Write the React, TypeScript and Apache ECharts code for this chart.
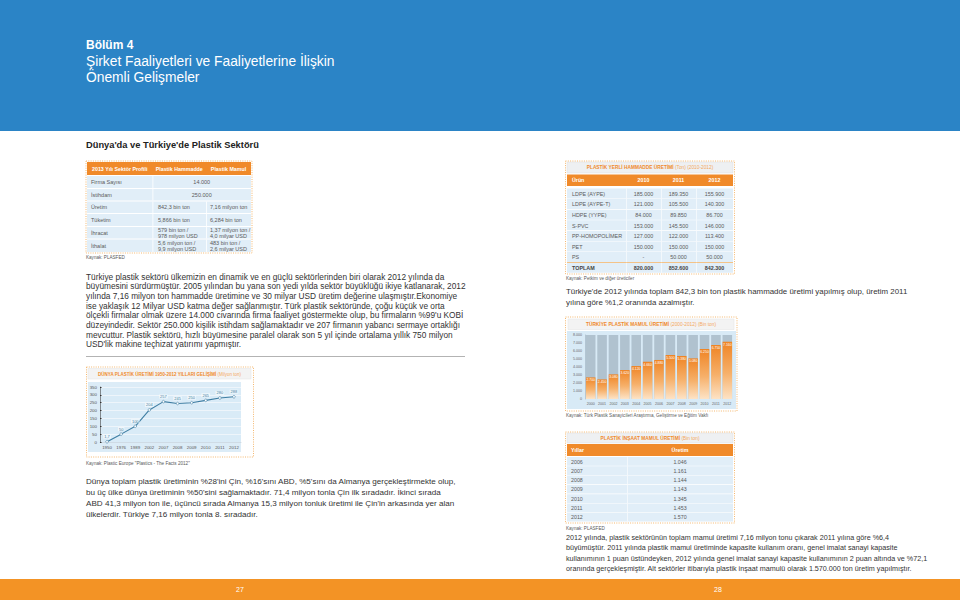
import React, { useEffect, useRef } from "react";
import * as echarts from "echarts";

const FONT = '"Liberation Sans", Arial, Helvetica, sans-serif';

// ---------- DATA ----------
const worldYears = ["1950", "1976", "1989", "2002", "2007", "2008", "2009", "2010", "2011", "2012"];
const worldProduction = [1.7, 50, 100, 204, 257, 245, 250, 265, 280, 288];

const turkeyYears = ["2000", "2001", "2002", "2003", "2004", "2005", "2006", "2007", "2008", "2009", "2010", "2011", "2012"];
const turkeyProduction = [2700, 2450, 3080, 3620, 4120, 4660, 4880, 5500, 5380, 5080, 6250, 6750, 7160];
const turkeyAxisMax = 8000;

const profileHeaders = ["2013 Yılı Sektör Profili", "Plastik Hammadde", "Plastik Mamul"];
const profileRowLabels = ["Firma Sayısı", "İstihdam", "Üretim", "Tüketim", "İhracat", "İthalat"];
const profileRaw = ["14.000", "250.000", "842,3 bin ton", "5,866 bin ton", "579 bin ton /\n978 milyon USD", "5,6 milyon ton /\n9,9 milyon USD"];
const profileProducts = ["", "", "7,16 milyon ton", "6,284 bin ton", "1,37 milyon ton /\n4,0 milyar USD", "483 bin ton /\n2,6 milyar USD"];

const rawTitle = "PLASTİK YERLİ HAMMADDE ÜRETİMİ";
const rawTitleUnit = "(Ton) (2010-2012)";
const rawHeaders = ["Ürün", "2010", "2011", "2012"];
const rawProducts = ["LDPE (AYPE)", "LDPE (AYPE-T)", "HDPE (YYPE)", "S-PVC", "PP-HOMOPOLİMER", "PET", "PS", "TOPLAM"];
const raw2010 = ["185.000", "121.000", "84.000", "153.000", "127.000", "150.000", "-", "820.000"];
const raw2011 = ["189.350", "105.500", "89.850", "145.500", "122.000", "150.000", "50.000", "852.600"];
const raw2012 = ["155.900", "140.300", "86.700", "146.000", "113.400", "150.000", "50.000", "842.300"];

const constrTitle = "PLASTİK İNŞAAT MAMUL ÜRETİMİ";
const constrUnit = "(Bin ton)";
const constrHeaders = ["Yıllar", "Üretim"];
const constrYears = ["2006", "2007", "2008", "2009", "2010", "2011", "2012"];
const constrValues = ["1.046", "1.161", "1.144", "1.143", "1.345", "1.453", "1.570"];

const para1 = [
  "Türkiye plastik sektörü ülkemizin en dinamik ve en güçlü sektörlerinden biri olarak 2012 yılında da",
  "büyümesini sürdürmüştür. 2005 yılından bu yana son yedi yılda sektör büyüklüğü ikiye katlanarak, 2012",
  "yılında 7,16 milyon ton hammadde üretimine ve 30 milyar USD üretim değerine ulaşmıştır.Ekonomiye",
  "ise yaklaşık 12 Milyar USD katma değer sağlanmıştır. Türk plastik sektöründe, çoğu küçük ve orta",
  "ölçekli firmalar olmak üzere 14.000 civarında firma faaliyet göstermekte olup, bu firmaların %99'u KOBİ",
  "düzeyindedir. Sektör 250.000 kişilik istihdam sağlamaktadır ve 207 firmanın yabancı sermaye ortaklığı",
  "mevcuttur. Plastik sektörü, hızlı büyümesine paralel olarak son 5 yıl içinde ortalama yıllık 750 milyon",
  "USD'lik makine teçhizat yatırımı yapmıştır.",
];
const para2 = [
  "Dünya toplam plastik üretiminin %28'ini Çin, %16'sını ABD, %5'sını da Almanya gerçekleştirmekte olup,",
  "bu üç ülke dünya üretiminin %50'sini sağlamaktadır. 71,4 milyon tonla Çin ilk sıradadır. İkinci sırada",
  "ABD 41,3 milyon ton ile, üçüncü sırada Almanya 15,3 milyon tonluk üretimi ile Çin'in arkasında yer alan",
  "ülkelerdir. Türkiye 7,16 milyon tonla 8. sıradadır.",
];
const para3 = [
  "Türkiye'de 2012 yılında toplam 842,3 bin ton plastik hammadde üretimi yapılmış olup, üretim 2011",
  "yılına göre %1,2 oranında azalmıştır.",
];
const para4 = [
  "2012 yılında, plastik sektörünün toplam mamul üretimi 7,16 milyon tonu çıkarak 2011 yılına göre %6,4",
  "büyümüştür. 2011 yılında plastik mamul üretiminde kapasite kullanım oranı, genel imalat sanayi kapasite",
  "kullanımının 1 puan üstündeyken, 2012 yılında genel imalat sanayi kapasite kullanımının 2 puan altında ve %72,1",
  "oranında gerçekleşmiştir. Alt sektörler itibarıyla plastik inşaat mamulü olarak 1.570.000 ton üretim yapılmıştır.",
];

// ---------- STYLE ----------
const BLUE = "#2b84c6";
const ORANGE = "#f08a2a";
const ROW = "#e1eef8";
const DARK = "#333333";
const GREY = "#5a5a5a";

const fmtDots = (v: number) => v.toLocaleString("de-DE");

const txt = (x: number, y: number, text: string, size: number, fill: string, o: any = {}) => ({
  type: "text",
  x,
  y,
  z: o.z ?? 10,
  silent: true,
  style: {
    text,
    fill,
    fontSize: size,
    fontFamily: FONT,
    fontWeight: o.weight || "normal",
    align: o.align || "left",
    verticalAlign: "middle",
    lineHeight: o.lineHeight,
    rich: o.rich,
  },
});

const rect = (x: number, y: number, w: number, h: number, style: any, z = 1) => ({
  type: "rect",
  z,
  silent: true,
  shape: { x, y, width: w, height: h },
  style,
});

const dotted = (x: number, y: number, w: number, h: number) =>
  rect(x, y, w, h, { fill: "none", stroke: "#f3b060", lineWidth: 0.9, lineDash: [1, 1.3] }, 5);

const titleRich = (size: number) => ({
  b: { fontSize: size, fontWeight: "bold", fill: ORANGE, fontFamily: FONT },
  l: { fontSize: size, fill: "#f4a860", fontFamily: FONT },
});

function buildGraphics() {
  const g: any[] = [];
  // page backgrounds
  g.push(rect(0, 0, 960, 131, { fill: BLUE }, 0));
  g.push(rect(0, 579, 960, 21, { fill: "#f39325" }, 0));
  g.push(txt(240, 589.5, "27", 7, "#ffffff", { align: "center" }));
  g.push(txt(718, 589.5, "28", 7, "#ffffff", { align: "center" }));

  g.push(txt(86, 45, "Bölüm 4", 12, "#ffffff", { weight: "bold" }));
  g.push(txt(86, 61, "Şirket Faaliyetleri ve Faaliyetlerine İlişkin", 13.8, "#ffffff"));
  g.push(txt(86, 77.5, "Önemli Gelişmeler", 13.8, "#ffffff"));
  g.push(txt(86, 145, "Dünya'da ve Türkiye'de Plastik Sektörü", 9.3, "#222222", { weight: "bold" }));

  // ---- profile table ----
  const px = [87, 152.5, 206, 251];
  g.push(rect(px[0], 162, px[3] - px[0], 13, { fill: ORANGE }, 2));
  const hx = [(px[0] + px[1]) / 2, (px[1] + px[2]) / 2, (px[2] + px[3]) / 2];
  profileHeaders.forEach((h, i) => g.push(txt(hx[i], 168.5, h, 5.3, "#ffffff", { align: "center", weight: "bold" })));
  const rowTops = [176, 189, 201.5, 214, 227, 239.5];
  const rowHs = [12, 11.5, 11.5, 12, 11.5, 12.5];
  profileRowLabels.forEach((lab, i) => {
    const t = rowTops[i];
    const h = rowHs[i];
    const c = t + h / 2;
    g.push(rect(px[0], t, px[3] - px[0], h, { fill: ROW }, 2));
    g.push(rect(px[1], t, 0.8, h, { fill: "#ffffff" }, 3));
    g.push(txt(91, c, lab, 5.5, GREY));
    if (profileProducts[i] === "") {
      g.push(txt((px[1] + px[3]) / 2, c, profileRaw[i], 5.5, GREY, { align: "center" }));
    } else {
      g.push(rect(px[2], t, 0.8, h, { fill: "#ffffff" }, 3));
      g.push(txt(158, c, profileRaw[i], 5.5, GREY, { lineHeight: 5.6 }));
      g.push(txt(210, c, profileProducts[i], 5.5, GREY, { lineHeight: 5.6 }));
    }
  });
  g.push(dotted(86, 161, 166, 92));
  g.push(txt(86, 257, "Kaynak: PLASFED", 4.6, GREY));

  // paragraphs
  para1.forEach((l, i) => g.push(txt(86, 276.5 + i * 9.7, l, 8.3, DARK)));
  g.push(rect(86, 356, 379, 0.7, { fill: "#9a9a9a" }, 2));
  para2.forEach((l, i) => g.push(txt(86, 481 + i * 11, l, 8.1, DARK)));
  para3.forEach((l, i) => g.push(txt(566, 291 + i * 11, l, 7.9, DARK)));
  para4.forEach((l, i) => g.push(txt(566, 537.5 + i * 10.3, l, 7.2, DARK)));

  // ---- world chart frame ----
  g.push(rect(88, 382, 153, 70, { fill: "#dcecf7" }, -1));
  g.push(rect(88, 368.5, 163, 10.5, { fill: "#f3f3f3", stroke: "#e2e2e2", lineWidth: 0.5 }, 2));
  g.push(
    txt(169.5, 374, "{b|DÜNYA PLASTİK ÜRETİMİ 1950-2012 YILLARI GELİŞİMİ} {l|(Milyon ton)}", 4.5, ORANGE, {
      align: "center",
      rich: titleRich(4.5),
    })
  );
  g.push(dotted(86.5, 367, 167, 90));
  g.push(txt(86, 463.5, 'Kaynak: Plastic Europe "Plastics - The Facts 2012"', 4.6, GREY));

  // ---- raw table ----
  const rx = [567, 626, 661, 696, 733];
  g.push(rect(rx[0], 162, rx[4] - rx[0], 11, { fill: "#eef0f2", stroke: "#dcdcdc", lineWidth: 0.5 }, 2));
  g.push(txt(650, 167.5, `{b|${rawTitle}} {l|${rawTitleUnit}}`, 4.8, ORANGE, { align: "center", rich: titleRich(4.8) }));
  g.push(rect(rx[0], 174.5, rx[4] - rx[0], 11.5, { fill: ORANGE }, 2));
  g.push(txt(572, 180.3, rawHeaders[0], 5.3, "#ffffff", { weight: "bold" }));
  for (let c = 1; c < 4; c++) {
    g.push(txt((rx[c] + rx[c + 1]) / 2, 180.3, rawHeaders[c], 5.3, "#ffffff", { align: "center", weight: "bold" }));
  }
  const cols = [raw2010, raw2011, raw2012];
  rawProducts.forEach((p, i) => {
    const t = 188.5 + i * 10.6;
    const c = t + 5.3;
    const last = i === rawProducts.length - 1;
    g.push(rect(rx[0], t, rx[4] - rx[0], 10, { fill: ROW }, 2));
    if (last) g.push(rect(rx[0], t - 0.4, rx[4] - rx[0], 0.8, { fill: "#f3b060" }, 3));
    for (let k = 1; k < 4; k++) g.push(rect(rx[k], t, 0.6, 10, { fill: "#ffffff" }, 3));
    g.push(txt(572, c, p, 5.4, last ? "#444" : GREY, { weight: last ? "bold" : "normal" }));
    cols.forEach((col, k) =>
      g.push(txt((rx[k + 1] + rx[k + 2]) / 2, c, col[i], 5.4, last ? "#444" : GREY, { align: "center", weight: last ? "bold" : "normal" }))
    );
  });
  g.push(dotted(565.5, 161, 169, 113));
  g.push(txt(566, 278, "Kaynak: Petkim ve diğer üreticiler", 4.6, GREY));

  // ---- turkey chart frame ----
  g.push(rect(567, 331, 169, 78, { fill: "#d8eaf6" }, -1));
  g.push(rect(568, 319, 166, 10.5, { fill: "#f3f3f3", stroke: "#e2e2e2", lineWidth: 0.5 }, 2));
  g.push(
    txt(651, 324.5, "{b|TÜRKİYE PLASTİK MAMUL ÜRETİMİ} {l|(2000-2012) (Bin ton)}", 4.8, ORANGE, {
      align: "center",
      rich: titleRich(4.8),
    })
  );
  g.push(dotted(565.5, 317, 171.5, 94));
  g.push(txt(566, 415, "Kaynak: Türk Plastik Sanayicileri Araştırma, Geliştirme ve Eğitim Vakfı", 4.6, GREY));

  // ---- construction table ----
  const cx = [567, 627, 733];
  g.push(rect(cx[0], 433, cx[2] - cx[0], 10, { fill: "#eef0f2", stroke: "#dcdcdc", lineWidth: 0.5 }, 2));
  g.push(txt(650, 438, `{b|${constrTitle}} {l|${constrUnit}}`, 4.8, ORANGE, { align: "center", rich: titleRich(4.8) }));
  g.push(rect(cx[0], 444, cx[2] - cx[0], 12, { fill: ORANGE }, 2));
  g.push(txt(571, 450, constrHeaders[0], 5.3, "#ffffff", { weight: "bold" }));
  g.push(txt((cx[1] + cx[2]) / 2, 450, constrHeaders[1], 5.3, "#ffffff", { align: "center", weight: "bold" }));
  constrYears.forEach((y, i) => {
    const t = 457 + i * 9.3;
    g.push(rect(cx[0], t, cx[2] - cx[0], 8.7, { fill: ROW }, 2));
    g.push(rect(cx[1], t, 0.6, 8.7, { fill: "#ffffff" }, 3));
    g.push(txt(571, t + 4.5, y, 5.3, GREY));
    g.push(txt((cx[1] + cx[2]) / 2, t + 4.5, constrValues[i], 5.3, GREY, { align: "center" }));
  });
  g.push(dotted(565.5, 432, 169, 91));
  g.push(txt(566, 528, "Kaynak: PLASFED", 4.6, GREY));

  return g;
}

function buildOption(): any {
  return {
    animation: false,
    backgroundColor: "#ffffff",
    textStyle: { fontFamily: FONT },
    grid: [
      { left: 100, top: 387, width: 141, height: 55, show: true, backgroundColor: "#d9ebf7", borderWidth: 0 },
      { left: 585, top: 335, width: 148, height: 64, show: false },
    ],
    xAxis: [
      {
        type: "category",
        gridIndex: 0,
        data: worldYears,
        boundaryGap: true,
        axisLine: { show: true, lineStyle: { color: "#b9cad6", width: 0.6 } },
        axisTick: { show: false },
        axisLabel: { fontSize: 4.4, color: "#555", margin: 3, interval: 0 },
      },
      {
        type: "category",
        gridIndex: 1,
        data: turkeyYears,
        axisLine: { show: false },
        axisTick: { show: false },
        axisLabel: { fontSize: 3.6, color: "#666", margin: 2.5, interval: 0 },
      },
    ],
    yAxis: [
      {
        type: "value",
        gridIndex: 0,
        min: 0,
        max: 350,
        interval: 50,
        axisLine: { show: true, lineStyle: { color: "#444", width: 0.6 } },
        axisTick: { show: true, length: 1.5, inside: true, lineStyle: { color: "#333", width: 1.2 } },
        axisLabel: { fontSize: 4.4, color: "#555", margin: 3 },
        splitLine: { show: true, lineStyle: { color: "#f4f8fb", width: 0.8 } },
      },
      {
        type: "value",
        gridIndex: 1,
        min: 0,
        max: turkeyAxisMax,
        interval: 1000,
        axisLine: { show: true, lineStyle: { color: "#8fa3b3", width: 0.5 } },
        axisTick: { show: false },
        axisLabel: { fontSize: 3.6, color: "#666", margin: 3, formatter: (v: number) => fmtDots(v) },
        splitLine: { show: false },
      },
    ],
    series: [
      {
        type: "line",
        xAxisIndex: 0,
        yAxisIndex: 0,
        data: worldProduction,
        lineStyle: { color: "#3f7ea3", width: 1.1 },
        symbol: "circle",
        symbolSize: 2.6,
        itemStyle: { color: "#ffffff", borderColor: "#3f7ea3", borderWidth: 0.6 },
        label: {
          show: true,
          position: "top",
          distance: 1.5,
          fontSize: 4,
          color: "#3f7ea3",
          backgroundColor: "rgba(255,255,255,0.6)",
          padding: [0, 1],
          formatter: (p: any) => String(p.value).replace(".", ","),
        },
      },
      {
        type: "bar",
        xAxisIndex: 1,
        yAxisIndex: 1,
        data: turkeyYears.map(() => turkeyAxisMax),
        barWidth: "84%",
        barGap: "-100%",
        silent: true,
        itemStyle: { color: "#b0c2cf" },
        z: 1,
      },
      {
        type: "bar",
        xAxisIndex: 1,
        yAxisIndex: 1,
        data: turkeyProduction,
        barWidth: "84%",
        z: 3,
        itemStyle: {
          color: new echarts.graphic.LinearGradient(0, 0, 0, 1, [
            { offset: 0, color: "#ef8424" },
            { offset: 0.55, color: "#f6b06a" },
            { offset: 1, color: "#fde3c6" },
          ]),
        },
        label: {
          show: true,
          position: "insideTop",
          distance: 1.5,
          fontSize: 3.4,
          color: "#ffffff",
          formatter: (p: any) => fmtDots(p.value),
        },
      },
    ],
    graphic: buildGraphics(),
  };
}

export default function App() {
  const ref = useRef<HTMLDivElement>(null);
  useEffect(() => {
    if (!ref.current) return;
    const chart = echarts.init(ref.current, null, { renderer: "svg" });
    chart.setOption(buildOption());
    return () => chart.dispose();
  }, []);
  return <div ref={ref} style={{ position: "fixed", left: 0, top: 0, width: 960, height: 600 }} />;
}
